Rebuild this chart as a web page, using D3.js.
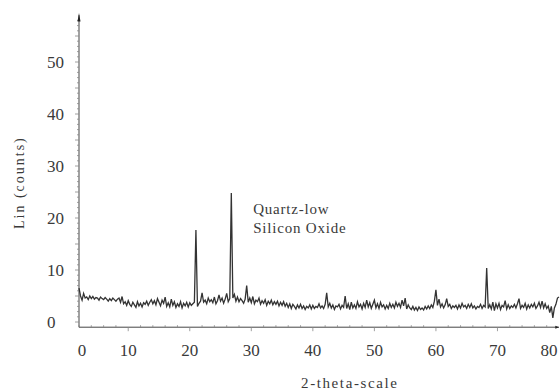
<!DOCTYPE html>
<html>
<head>
<meta charset="utf-8">
<script src="https://cdn.jsdelivr.net/npm/d3@7"></script>
<style>
  body { margin: 0; background: #fff; }
  svg text { font-family: 'Liberation Serif', 'Times New Roman', 'DejaVu Serif', serif; }
</style>
</head>
<body>
<div id="chart"></div>
<script>
const WIDTH = 560;
const HEIGHT = 391;

// scan: 2-theta from START in STEP increments
const START = 2;
const STEP = 0.25;
const counts = [
  6.5, 5.0, 4.2, 5.5,
  4.6, 4.8, 4.3, 5.0,
  4.5, 4.9, 4.4, 4.7,
  4.6, 4.2, 4.8, 4.5,
  4.3, 4.7, 4.4, 4.0,
  4.5, 4.1, 4.6, 4.3,
  4.0, 4.4, 4.6, 3.8,
  4.9, 3.5, 3.9, 3.2,
  4.1, 3.4, 3.0, 3.8,
  3.3, 2.8, 3.9, 3.1,
  3.6, 2.9, 3.7, 3.4,
  4.0, 3.2, 3.8, 4.3,
  3.5, 4.1, 3.3, 4.5,
  3.8, 3.1, 4.2, 3.6,
  4.8, 3.0, 3.7, 2.9,
  4.4, 3.2, 3.9, 2.8,
  3.5, 3.0, 3.9, 2.7,
  3.6, 3.1, 3.8, 2.9,
  3.7, 3.2, 3.5, 3.8,
  17.7, 3.0, 3.6, 4.0,
  5.6, 3.8, 4.2, 3.5,
  4.6, 3.9, 4.3, 3.7,
  4.8, 3.5, 4.1, 5.2,
  4.0, 4.6, 3.6, 4.4,
  5.5, 3.9, 4.5, 24.8,
  4.6, 5.3, 4.0, 4.8,
  3.9, 4.5, 4.1, 3.6,
  4.4, 7.0, 3.8, 4.6,
  3.7, 4.9, 3.5, 4.2,
  3.9, 4.6, 3.4, 4.1,
  3.6, 4.3, 3.2, 4.0,
  3.5, 4.2, 3.3, 3.9,
  3.4, 4.0, 3.1, 3.8,
  3.2, 3.9, 3.0, 3.6,
  2.8, 3.5, 2.6, 3.4,
  3.0, 2.5, 3.3, 2.7,
  3.4, 2.6, 3.1, 2.4,
  3.0, 2.7, 3.3, 2.5,
  3.2, 2.6, 3.0, 2.8,
  3.5, 2.7, 3.1, 2.6,
  3.4, 5.6, 2.9, 3.6,
  2.7, 3.3, 2.4, 3.1,
  2.9, 3.4, 2.5, 3.2,
  2.8, 5.0, 2.6, 3.5,
  2.4, 3.8, 2.7, 3.3,
  2.6, 3.9, 2.9, 3.4,
  2.5, 3.6, 2.8, 4.2,
  2.9, 3.7, 2.6, 3.4,
  4.2, 2.7, 3.5, 2.6,
  3.8, 2.9, 3.3, 2.5,
  3.2, 2.6, 3.6, 2.8,
  3.4, 2.7, 3.8, 3.0,
  3.6, 2.8, 4.2, 3.1,
  4.6, 2.5, 3.3, 2.7,
  2.4, 3.0, 2.3, 2.8,
  2.2, 2.9, 2.4, 2.7,
  2.3, 3.0, 2.5, 3.1,
  2.6, 3.3, 2.8, 4.0,
  6.2, 3.2, 4.4, 2.9,
  3.5, 2.7, 3.3, 4.5,
  3.0, 3.4, 2.6, 3.1,
  2.8, 3.2, 2.5, 3.3,
  2.7, 3.6, 2.9, 3.2,
  2.6, 3.4, 2.8, 3.5,
  2.7, 3.1, 2.5, 3.0,
  2.8, 3.4, 2.6, 3.2,
  2.9, 10.4, 2.6, 3.3,
  2.5, 3.8, 2.2, 3.5,
  2.7, 3.6, 2.4, 3.2,
  2.9, 4.1, 2.5, 3.3,
  2.6, 3.1, 2.8, 3.4,
  2.7, 3.5, 4.5, 2.6,
  3.2, 2.8, 3.6, 2.5,
  3.3, 2.7, 3.4, 2.9,
  3.6, 2.6, 3.1, 3.8,
  2.8, 4.0, 2.7, 3.5,
  2.6, 3.1, 1.8, 3.0,
  0.8, 2.7, 3.4, 4.6,
  4.8
];

const xTickLabels = [0, 10, 20, 30, 40, 50, 60, 70, 80];
const yTickLabels = [0, 10, 20, 30, 40, 50];
const annotation = ['Quartz-low', 'Silicon Oxide'];
const xTitle = '2-theta-scale';
const yTitle = 'Lin (counts)';

const svg = d3.select('#chart')
  .append('svg')
  .attr('width', WIDTH)
  .attr('height', HEIGHT);

const x = d3.scaleLinear()
  .domain([2, 80])
  .range([79, 559]);

const y = d3.scaleLinear()
  .domain([-1, 59])
  .range([327.2, 15.2]);

const ink = '#444';
const textInk = '#3a3a3a';

// y axis: line, minor ticks every count, longer every 5
svg.append('line')
  .attr('x1', x(2)).attr('x2', x(2))
  .attr('y1', y(-1)).attr('y2', y(59))
  .attr('stroke', ink).attr('stroke-width', 1);

svg.append('g')
  .selectAll('line')
  .data(d3.range(0, 59, 1))
  .join('line')
  .attr('x1', x(2))
  .attr('x2', d => x(2) - (d % 5 === 0 ? 4 : 2))
  .attr('y1', d => y(d)).attr('y2', d => y(d))
  .attr('stroke', '#888').attr('stroke-width', 0.8);

svg.append('path')
  .attr('d', `M${x(2) - 1.5},${y(57.8)} L${x(2)},${y(59.4)} L${x(2) + 1.5},${y(57.8)} Z`)
  .attr('fill', '#222');

svg.append('g')
  .selectAll('text')
  .data(yTickLabels)
  .join('text')
  .attr('x', x(2) - 32)
  .attr('y', d => y(d))
  .attr('dy', '0.35em')
  .attr('font-size', 17)
  .attr('fill', textInk)
  .text(d => d);

// x axis: line, minor ticks every 2 degrees, major every 10
svg.append('line')
  .attr('x1', x(2)).attr('x2', x(80))
  .attr('y1', y(-1)).attr('y2', y(-1))
  .attr('stroke', ink).attr('stroke-width', 1);

svg.append('g')
  .selectAll('line')
  .data(d3.range(2, 80, 2))
  .join('line')
  .attr('x1', d => x(d)).attr('x2', d => x(d))
  .attr('y1', y(-1))
  .attr('y2', d => d % 10 === 0 ? y(-1) + 4 : y(-1) - 2)
  .attr('stroke', '#888').attr('stroke-width', 0.8);

svg.append('path')
  .attr('d', `M${x(79.4)},${y(-1) - 1.5} L${x(80)},${y(-1)} L${x(79.4)},${y(-1) + 1.5} Z`)
  .attr('fill', '#222');

const xLabelPos = d => d === 0 ? x(2) + 3 : d === 80 ? x(80) - 10 : x(d);

svg.append('g')
  .selectAll('text')
  .data(xTickLabels)
  .join('text')
  .attr('x', xLabelPos)
  .attr('y', y(-1) + 23)
  .attr('dy', '0.35em')
  .attr('text-anchor', 'middle')
  .attr('font-size', 17)
  .attr('fill', textInk)
  .text(d => d);

// titles
svg.append('text')
  .attr('transform', `translate(19,${y(26.8)}) rotate(-90)`)
  .attr('text-anchor', 'middle')
  .attr('dy', '0.35em')
  .attr('font-size', 14)
  .attr('letter-spacing', 2)
  .attr('fill', textInk)
  .text(yTitle);

svg.append('text')
  .attr('x', x(46))
  .attr('y', 383)
  .attr('dy', '0.35em')
  .attr('text-anchor', 'middle')
  .attr('font-size', 15)
  .attr('letter-spacing', 1.6)
  .attr('fill', textInk)
  .text(xTitle);

// diffraction pattern
const line = d3.line()
  .x((d, i) => x(START + i * STEP))
  .y(d => y(d));

svg.append('path')
  .datum(counts)
  .attr('fill', 'none')
  .attr('stroke', '#333')
  .attr('stroke-width', 1.3)
  .attr('stroke-linejoin', 'miter')
  .attr('d', line);

// phase label next to the main peak
svg.append('g')
  .selectAll('text')
  .data(annotation)
  .join('text')
  .attr('x', x(30.3))
  .attr('y', (d, i) => y(21.7) + i * 19)
  .attr('dy', '0.35em')
  .attr('font-size', 15)
  .attr('letter-spacing', 0.8)
  .attr('fill', textInk)
  .text(d => d);
</script>
</body>
</html>
